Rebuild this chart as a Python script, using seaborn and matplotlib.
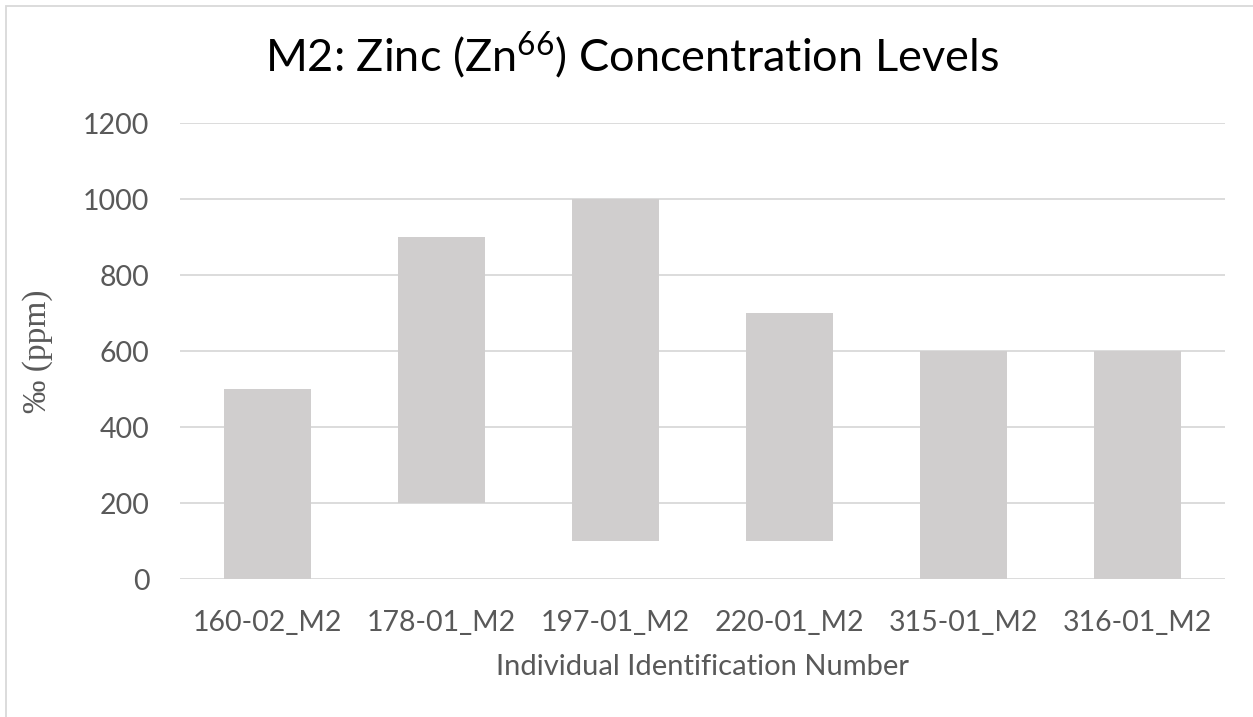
import matplotlib
matplotlib.use("Agg")
import matplotlib.pyplot as plt
import seaborn as sns
import pandas as pd
import numpy as np
from matplotlib.patches import Rectangle

categories = ["160-02_M2", "178-01_M2", "197-01_M2", "220-01_M2", "315-01_M2", "316-01_M2"]
low_values = [0, 200, 100, 100, 0, 0]
high_values = [500, 900, 1000, 700, 600, 600]
y_ticks = [0, 200, 400, 600, 800, 1000, 1200]

df = pd.DataFrame({
    "id": categories,
    "low": low_values,
    "span": np.array(high_values) - np.array(low_values),
})

sns.set_theme(style="white")
plt.rcParams["font.family"] = ["Lato", "DejaVu Sans"]
plt.rcParams["mathtext.fontset"] = "custom"
plt.rcParams["mathtext.rm"] = "Lato"

fig = plt.figure(figsize=(12.53, 7.17), dpi=100)
ax = fig.add_axes([180 / 1253, (717 - 579) / 717, 1045 / 1253, 456 / 717])

sns.barplot(data=df, x="id", y="span", bottom=df["low"].values, color="#D0CECE",
            saturation=1, width=0.5, ax=ax, zorder=3, linewidth=0)

ax.set_ylim(0, 1200)
ax.set_yticks(y_ticks)
ax.set_xlim(-0.5, len(categories) - 0.5)
ax.yaxis.grid(True, color="#D9D9D9", linewidth=1.3, zorder=0)
ax.xaxis.grid(False)
for s in ax.spines.values():
    s.set_visible(False)
ax.tick_params(axis="both", length=0, labelsize=20.5, colors="#595959")
ax.tick_params(axis="y", pad=22)
ax.tick_params(axis="x", pad=22)

ax.set_xlabel("Individual Identification Number", fontsize=21, color="#595959", labelpad=13)
ax.set_ylabel("‰ (ppm)", fontsize=24, color="#595959", family="Liberation Serif", labelpad=22)

fig.text(632 / 1253, 1 - 56 / 717, "M2: Zinc (Zn$^{\\mathrm{66}}$) Concentration Levels",
         ha="center", va="center", fontsize=32.5, color="#000000")

fig.patches.append(Rectangle((6 / 1253, -0.1), 1.2, 1 - 6 / 717 + 0.1,
                             transform=fig.transFigure, fill=False,
                             edgecolor="#D9D9D9", linewidth=1.3))

fig.savefig("out.png", dpi=100)
